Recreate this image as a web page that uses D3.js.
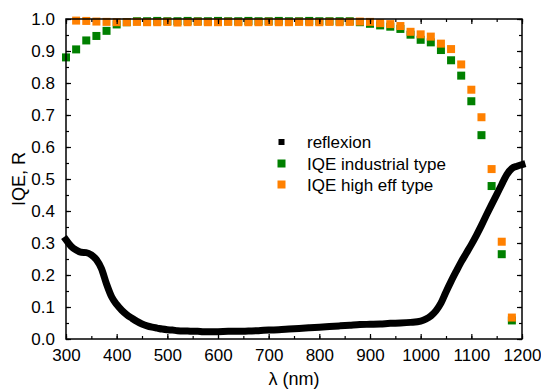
<!DOCTYPE html>
<html>
<head>
<meta charset="utf-8">
<script src="https://cdn.jsdelivr.net/npm/d3@7"></script>
<style>
  html, body { margin: 0; padding: 0; background: #fff; }
  svg { display: block; font-family: "Liberation Sans", Arial, sans-serif; }
</style>
</head>
<body>
<svg id="chart" width="541" height="390"></svg>
<script>
// ---------- DATA ----------
const seriesNames = ["reflexion", "IQE industrial type", "IQE high eff type"];
const seriesColors = ["#000000", "#008000", "#ff8000"];

const reflLambda = [300,310,320,330,340,350,360,370,380,390,400,410,420,430,440,450,460,470,480,490,
  500,510,520,530,540,550,560,570,580,590,600,620,640,660,680,700,720,740,760,780,800,820,840,860,880,
  900,920,940,960,980,1000,1010,1020,1030,1040,1050,1060,1070,1080,1090,1100,1110,1120,1130,1140,1150,
  1160,1170,1180,1190,1200];
const reflValues = [0.310,0.290,0.278,0.271,0.270,0.263,0.248,0.220,0.172,0.132,0.108,0.090,0.076,0.065,0.055,0.047,0.041,0.037,0.034,0.031,
  0.029,0.028,0.026,0.025,0.025,0.024,0.024,0.023,0.023,0.023,0.023,0.024,0.024,0.025,0.026,0.028,0.029,0.031,0.033,0.035,0.037,0.039,0.041,0.043,0.045,
  0.046,0.047,0.049,0.050,0.052,0.056,0.062,0.072,0.088,0.112,0.147,0.180,0.211,0.241,0.268,0.295,0.324,0.355,0.388,0.420,0.451,
  0.483,0.514,0.533,0.540,0.545];

const iqeLambda = [300,320,340,360,380,400,420,440,460,480,500,520,540,560,580,600,620,640,660,680,700,720,740,760,780,
  800,820,840,860,880,900,920,940,960,980,1000,1020,1040,1060,1080,1100,1120,1140,1160,1180];
const iqeIndustrial = [0.880,0.905,0.933,0.947,0.963,0.983,0.990,0.993,0.993,0.994,0.993,0.993,0.994,0.993,0.993,0.994,0.993,0.993,0.994,0.993,0.993,0.994,0.993,0.993,0.994,
  0.993,0.993,0.993,0.993,0.990,0.985,0.980,0.976,0.969,0.951,0.935,0.927,0.903,0.871,0.823,0.743,0.637,0.478,0.265,0.058];
const iqeHighEff = [null,0.995,0.994,0.992,0.991,0.990,0.990,0.991,0.990,0.990,0.991,0.989,0.990,0.991,0.990,0.990,0.991,0.990,0.990,0.990,0.991,0.990,0.990,0.991,0.990,
  0.990,0.991,0.990,0.991,0.992,0.991,0.987,0.984,0.978,0.960,0.952,0.945,0.923,0.906,0.858,0.779,0.693,0.531,0.304,0.067];

const xTicks = [300,400,500,600,700,800,900,1000,1100,1200];
const yTicks = [0.0,0.1,0.2,0.3,0.4,0.5,0.6,0.7,0.8,0.9,1.0];

// ---------- LAYOUT ----------
const W = 541, H = 390;
const m = {left: 66, right: 19, top: 19, bottom: 51};
const pw = W - m.left - m.right, ph = H - m.top - m.bottom;

const svg = d3.select("#chart");
const x = d3.scaleLinear().domain([300, 1200]).range([m.left, m.left + pw]);
const y = d3.scaleLinear().domain([0, 1]).range([m.top + ph, m.top]);

const fontTick = 17;

// ---------- DATA MARKS ----------
const refl = reflLambda.map((l, i) => ({l, v: reflValues[i]}));
svg.append("path")
  .datum(refl)
  .attr("fill", "none")
  .attr("stroke", seriesColors[0])
  .attr("stroke-width", 7)
  .attr("stroke-linejoin", "round")
  .attr("stroke-linecap", "square")
  .attr("d", d3.line().x(d => x(d.l)).y(d => y(d.v)).curve(d3.curveMonotoneX));

const sq = 8;
const ind = iqeLambda.map((l, i) => ({l, v: iqeIndustrial[i]})).filter(d => d.v != null);
const hi = iqeLambda.map((l, i) => ({l, v: iqeHighEff[i]})).filter(d => d.v != null);

svg.append("g").selectAll("rect").data(ind).join("rect")
  .attr("x", d => x(d.l) - sq / 2).attr("y", d => y(d.v) - sq / 2)
  .attr("width", sq).attr("height", sq)
  .attr("fill", seriesColors[1]);

svg.append("g").selectAll("rect").data(hi).join("rect")
  .attr("x", d => x(d.l) - sq / 2).attr("y", d => y(d.v) - sq / 2)
  .attr("width", sq).attr("height", sq)
  .attr("fill", seriesColors[2]);

// ---------- AXES ----------
const minorX = d3.range(300, 1201, 50);
const minorY = d3.range(0, 1.001, 0.05);

function styleAxis(g) {
  g.select(".domain").remove();
  g.selectAll("line").attr("stroke", "#000").attr("stroke-width", 1.2);
  g.selectAll("text").attr("font-size", fontTick).attr("fill", "#000")
    .attr("font-family", "Liberation Sans, Arial, sans-serif");
}

// bottom
svg.append("g").attr("transform", `translate(0,${m.top + ph})`)
  .call(d3.axisBottom(x).tickValues(minorX).tickSize(-3).tickFormat(""))
  .call(styleAxis);
svg.append("g").attr("transform", `translate(0,${m.top + ph})`)
  .call(d3.axisBottom(x).tickValues(xTicks).tickSize(-5).tickPadding(10).tickFormat(d3.format("d")))
  .call(styleAxis);
// top
svg.append("g").attr("transform", `translate(0,${m.top})`)
  .call(d3.axisTop(x).tickValues(minorX).tickSize(-3).tickFormat(""))
  .call(styleAxis);
svg.append("g").attr("transform", `translate(0,${m.top})`)
  .call(d3.axisTop(x).tickValues(xTicks).tickSize(-5).tickFormat(""))
  .call(styleAxis);
// left
svg.append("g").attr("transform", `translate(${m.left},0)`)
  .call(d3.axisLeft(y).tickValues(minorY).tickSize(-3).tickFormat(""))
  .call(styleAxis);
svg.append("g").attr("transform", `translate(${m.left},0)`)
  .call(d3.axisLeft(y).tickValues(yTicks).tickSize(-5).tickPadding(11).tickFormat(d3.format(".1f")))
  .call(styleAxis);
// right
svg.append("g").attr("transform", `translate(${m.left + pw},0)`)
  .call(d3.axisRight(y).tickValues(minorY).tickSize(-3).tickFormat(""))
  .call(styleAxis);
svg.append("g").attr("transform", `translate(${m.left + pw},0)`)
  .call(d3.axisRight(y).tickValues(yTicks).tickSize(-5).tickFormat(""))
  .call(styleAxis);

// frame
svg.append("rect")
  .attr("x", m.left).attr("y", m.top).attr("width", pw).attr("height", ph)
  .attr("fill", "none").attr("stroke", "#000").attr("stroke-width", 1.5);

// axis titles
svg.append("text")
  .attr("x", m.left + pw / 2).attr("y", 385)
  .attr("text-anchor", "middle").attr("font-size", 18).text("λ (nm)");
svg.append("text")
  .attr("transform", `translate(25,${m.top + ph / 2}) rotate(-90)`)
  .attr("text-anchor", "middle").attr("font-size", 18).text("IQE, R");

// ---------- LEGEND ----------
const legendY = [142, 163.5, 184.5];
const legendSize = [6, 8, 8];
const leg = svg.append("g");
seriesNames.forEach((name, i) => {
  leg.append("rect")
    .attr("x", 281.5 - legendSize[i] / 2).attr("y", legendY[i] - legendSize[i] / 2)
    .attr("width", legendSize[i]).attr("height", legendSize[i])
    .attr("fill", seriesColors[i]);
  leg.append("text")
    .attr("x", 307).attr("y", legendY[i] + 6)
    .attr("font-size", 17).text(name);
});
</script>
</body>
</html>
